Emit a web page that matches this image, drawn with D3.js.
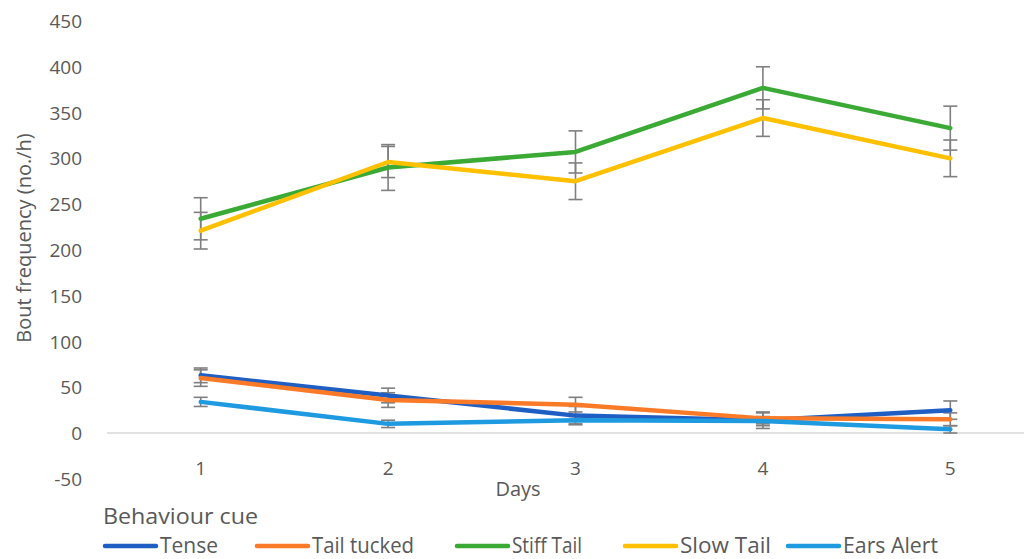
<!DOCTYPE html>
<html>
<head>
<meta charset="utf-8">
<script src="https://cdn.jsdelivr.net/npm/d3@7"></script>
<style>
  html, body { margin: 0; padding: 0; background: #fff; }
  svg { display: block; }
  .tick text { font-family: "Open Sans", sans-serif; fill: #595959; }
</style>
</head>
<body>
<svg id="chart" width="1024" height="559"></svg>
<script>
// Days on the x axis
const days = ["1", "2", "3", "4", "5"];
// Series names, in legend order
const seriesNames = ["Tense", "Tail tucked", "Stiff Tail", "Slow Tail", "Ears Alert"];
const seriesColors = ["#1f5fc4", "#fb7a27", "#3aaa35", "#ffc000", "#1e9ae0"];
// Mean bout frequency (no./h) per day
const tense      = [63, 41, 19, 14, 25];
const tailTucked = [60, 36, 31, 16, 15];
const stiffTail  = [234, 290, 307, 377, 333];
const slowTail   = [221, 296, 275, 344, 300];
const earsAlert  = [34, 10, 14, 13, 4];
// Error bar half-widths per day
const tenseErr      = [8, 8, 10, 9, 10];
const tailTuckedErr = [9, 8, 8, 6, 7];
const stiffTailErr  = [23, 25, 23, 23, 24];
const slowTailErr   = [20, 17, 20, 20, 20];
const earsAlertErr  = [5, 4, 4, 5, 4];
// Y axis ticks
const yTicks = [-50, 0, 50, 100, 150, 200, 250, 300, 350, 400, 450];

const values = [tense, tailTucked, stiffTail, slowTail, earsAlert];
const errors = [tenseErr, tailTuckedErr, stiffTailErr, slowTailErr, earsAlertErr];
const series = seriesNames.map((name, i) => ({
  name, color: seriesColors[i],
  points: days.map((d, j) => ({ day: d, v: values[i][j], e: errors[i][j] }))
}));

const svg = d3.select("#chart");
const plotLeft = 107, plotRight = 1044, plotTop = 21, plotBottom = 478.8;

const x = d3.scaleBand().domain(days).range([plotLeft, plotRight]);
const y = d3.scaleLinear().domain([-50, 450]).range([plotBottom, plotTop]);
const cx = d => x(d) + x.bandwidth() / 2;

// Zero baseline
svg.append("line")
  .attr("x1", plotLeft).attr("x2", plotRight)
  .attr("y1", y(0)).attr("y2", y(0))
  .attr("stroke", "#d9d9d9").attr("stroke-width", 1.3);

// Y axis (labels only, plain hyphen for negatives)
const yAxis = d3.axisLeft(y).tickValues(yTicks).tickFormat(v => String(v))
  .tickSize(0).tickPadding(0);
const yg = svg.append("g").attr("transform", "translate(82,0)").call(yAxis);
yg.select(".domain").remove();
yg.selectAll(".tick text").attr("font-size", 19).attr("dy", "0.35em");

// X axis labels
const xAxis = d3.axisBottom(x).tickSize(0).tickPadding(0);
const xg = svg.append("g").attr("transform", `translate(0,${y(-50) - 10})`).call(xAxis);
xg.select(".domain").remove();
xg.selectAll(".tick text").attr("font-size", 19).attr("dy", "0.35em").attr("y", 0);

// Axis titles
svg.append("text")
  .attr("transform", `translate(31,238) rotate(-90)`)
  .attr("text-anchor", "middle")
  .attr("font-family", "Open Sans, sans-serif")
  .attr("font-size", 20).attr("fill", "#595959")
  .text("Bout frequency (no./h)");

svg.append("text")
  .attr("x", 518).attr("y", 496)
  .attr("text-anchor", "middle")
  .attr("font-family", "Open Sans, sans-serif")
  .attr("font-size", 20).attr("fill", "#595959")
  .text("Days");

// Error bars
const capW = 7;
const eb = svg.append("g").attr("stroke", "#7f7f7f").attr("stroke-width", 1.6);
series.forEach(s => {
  s.points.forEach(p => {
    const xc = cx(p.day);
    eb.append("line").attr("x1", xc).attr("x2", xc)
      .attr("y1", y(p.v + p.e)).attr("y2", y(p.v - p.e));
    [p.v + p.e, p.v - p.e].forEach(v => {
      eb.append("line").attr("x1", xc - capW).attr("x2", xc + capW)
        .attr("y1", y(v)).attr("y2", y(v));
    });
  });
});

// Series lines
const line = d3.line().x(p => cx(p.day)).y(p => y(p.v));
svg.append("g").selectAll("path").data(series).join("path")
  .attr("d", s => line(s.points))
  .attr("fill", "none")
  .attr("stroke", s => s.color)
  .attr("stroke-width", 4.5)
  .attr("stroke-linejoin", "round")
  .attr("stroke-linecap", "round");

// Legend
svg.append("text")
  .attr("x", 103).attr("y", 524)
  .attr("font-family", "Open Sans, sans-serif")
  .attr("font-size", 22).attr("fill", "#595959")
  .attr("textLength", 155).attr("lengthAdjust", "spacingAndGlyphs")
  .text("Behaviour cue");

const legendX = [103, 255, 455, 623, 786];
const legendTextW = [58, 102, 70, 91, 95];
const lg = svg.append("g");
series.forEach((s, i) => {
  const g = lg.append("g").attr("transform", `translate(${legendX[i]},546)`);
  g.append("line").attr("x1", 2).attr("x2", 53).attr("y1", 0).attr("y2", 0)
    .attr("stroke", s.color).attr("stroke-width", 4.5).attr("stroke-linecap", "round");
  g.append("text").attr("x", 57).attr("y", 0).attr("dy", "0.35em")
    .attr("font-family", "Open Sans, sans-serif")
    .attr("font-size", 21).attr("fill", "#595959")
    .attr("textLength", legendTextW[i]).attr("lengthAdjust", "spacingAndGlyphs")
    .text(s.name);
});
</script>
</body>
</html>
